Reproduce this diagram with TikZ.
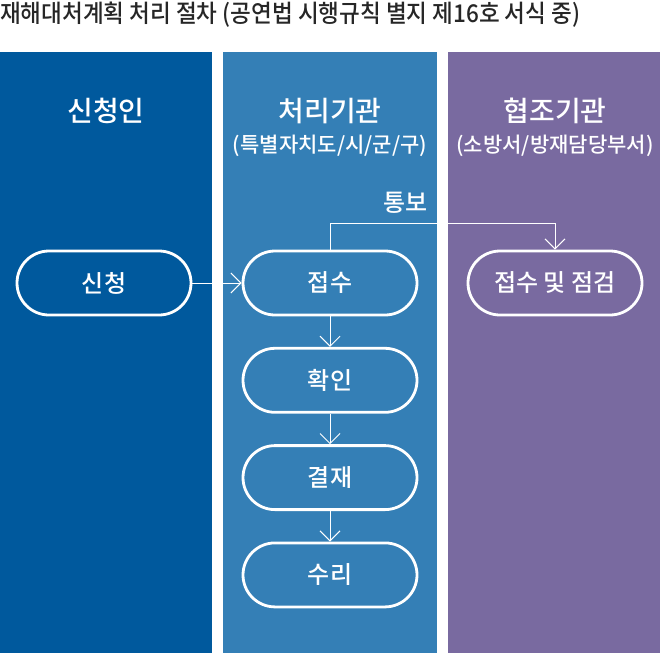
\documentclass[tikz,border=0pt]{standalone}
\usepackage{fontspec}
\setmainfont{Noto Sans CJK KR}[UprightFont=* Medium, BoldFont=* Bold]
\newfontfamily\titlefont{Noto Sans CJK KR}[UprightFont=* Medium, FakeStretch=0.92]
\usetikzlibrary{arrows.meta,positioning,chains}

\definecolor{applicantblue}{RGB}{0,89,157}
\definecolor{officeblue}{RGB}{52,127,182}
\definecolor{coopviolet}{RGB}{121,106,160}

\begin{document}
\begin{tikzpicture}
      [x=1pt, y=-1pt,
        >={Straight Barb[length=10pt,width=20pt]},
        column/.style={fill=#1, draw=none},
        pill/.style={
          rectangle, rounded corners=32pt,
          draw=white, line width=2.8pt,
          minimum width=174pt,
          minimum height=64pt,
          text=white, font=\fontsize{24}{26}\selectfont,
          inner sep=0pt},
        header/.style={text=white, font=\fontsize{28}{30}\selectfont, inner sep=0pt},
        subheader/.style={text=white, font=\fontsize{21}{23}\selectfont, inner sep=0pt},
        line/.style={draw=white, line width=1pt},
        every join/.style={->, draw=white, line width=1pt},
        node distance=30.5pt,
        start chain=going below,]
      \useasboundingbox (0,0) rectangle (660,654);

      % title
      \node[anchor=base west, inner sep=0pt, text=black!85,
        font=\titlefont\fontsize{24.5}{26}\selectfont] (title) at (0,22)
        {재해대처계획 처리 절차 (공연법 시행규칙 별지 제16호 서식 중)};

      % swim lanes
      \path[column=applicantblue] (0,52) rectangle (212,653);
      \path[column=officeblue] (223,52) rectangle (437,653);
      \path[column=coopviolet] (448,52) rectangle (660,653);

      \node[header] (applicant) at (106,111) {신청인};
      \node[header] (office) at (330,111) {처리기관};
      \node[subheader] (officesub) at (330,146) {(특별자치도/시/군/구)};
      \node[header] (coop) at (555,111) {협조기관};
      \node[subheader] (coopsub) at (555,146) {(소방서/방재담당부서)};

      % steps
      \node[pill] (apply) at (104,283) {신청};
      \node[pill, on chain] (receive) at (330,283) {접수};
      \node[pill, on chain, join] (confirm) {확인};
      \node[pill, on chain, join] (approve) {결재};
      \node[pill, on chain, join] (accept) {수리};
      \node[pill] (inspect) at (555,283) {접수 및 점검};

      \draw[line, ->] (apply) -- (receive);
      \coordinate (notifyturn) at (555,223);
      \draw[line, ->] (receive.north) |- (notifyturn) -- (inspect.north);
      \node[subheader, anchor=base east, font=\fontsize{24}{26}\selectfont]
        (notify) at (428,211) {통보};
\end{tikzpicture}
\end{document}
